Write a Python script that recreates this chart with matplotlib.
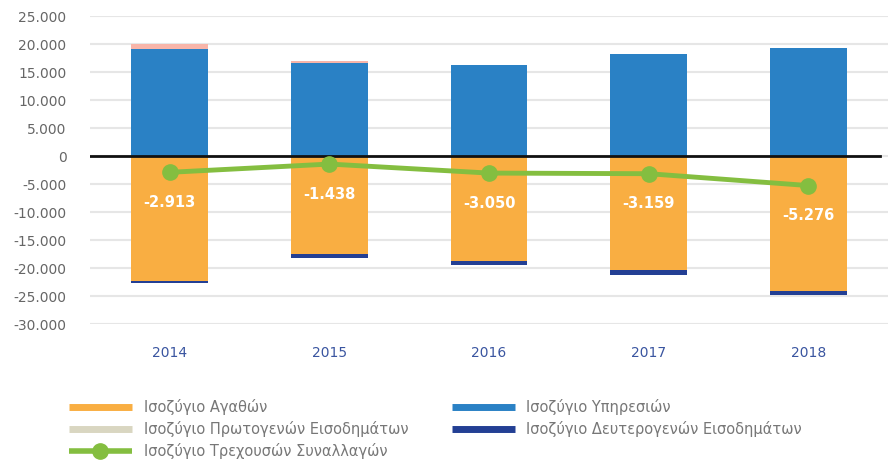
import numpy as np
import matplotlib.pyplot as plt
from matplotlib.lines import Line2D

plt.rcParams['font.family'] = ['DejaVu Sans']

years = ['2014', '2015', '2016', '2017', '2018']
goods = [-22300, -17500, -18750, -20350, -24100]
services = [19100, 16600, 16250, 18200, 19300]
primary = [900, 350, 0, 0, 0]
secondary = [-400, -700, -700, -900, -700]
current = [-2913, -1438, -3050, -3159, -5276]
current_labels = ['-2.913', '-1.438', '-3.050', '-3.159', '-5.276']

c_goods = '#F9AE42'
c_serv = '#2A81C5'
c_prim = '#F8B5A9'
c_prim_leg = '#D9D6C1'
c_sec = '#233F94'
c_cur = '#84BE40'

fig = plt.figure(figsize=(8.88, 4.63), dpi=100)
ax = fig.add_axes([90 / 888, 139 / 463, 798 / 888, 308 / 463])

x = np.arange(len(years))
w = 0.48
ax.bar(x, goods, w, color=c_goods, zorder=2)
ax.bar(x, secondary, w, bottom=goods, color=c_sec, zorder=2)
ax.bar(x, services, w, color=c_serv, zorder=2)
ax.bar(x, primary, w, bottom=services, color=c_prim, zorder=2)

ax.axhline(0, xmax=0.99, color='#111111', lw=2, zorder=3)
ax.plot(x, current, color=c_cur, lw=3.5, marker='o', ms=11, zorder=4)

for xi, yi, lab in zip(x, current, current_labels):
    ax.annotate(lab, (xi, yi), xytext=(0, -30), textcoords='offset pixels',
                ha='center', va='center', color='white', fontsize=10.5,
                fontweight='bold', zorder=5)

ax.set_ylim(-30000, 25000)
ax.set_xlim(-0.5, 4.5)
yt = np.arange(-30000, 25001, 5000)
ax.set_yticks(yt)
ax.set_yticklabels([f'{v:,}'.replace(',', '.') for v in yt])
ax.set_xticks(x)
ax.set_xticklabels(years)
ax.tick_params(axis='y', length=0, labelsize=10, labelcolor='#666666', pad=17)
ax.tick_params(axis='x', length=0, labelsize=10, labelcolor='#3A55A0', pad=16)
ax.grid(axis='y', color='#E6E6E6', lw=1.5, zorder=0)
for s in ax.spines.values():
    s.set_visible(False)

handles = [
    Line2D([], [], color=c_goods, lw=5, solid_capstyle='butt'),
    Line2D([], [], color=c_prim_leg, lw=5, solid_capstyle='butt'),
    Line2D([], [], color=c_cur, lw=4, marker='o', ms=11, solid_capstyle='butt'),
    Line2D([], [], color=c_serv, lw=5, solid_capstyle='butt'),
    Line2D([], [], color=c_sec, lw=5, solid_capstyle='butt'),
]
labels = ['Ισοζύγιο Αγαθών', 'Ισοζύγιο Πρωτογενών Εισοδημάτων',
          'Ισοζύγιο Τρεχουσών Συναλλαγών', 'Ισοζύγιο Υπηρεσιών',
          'Ισοζύγιο Δευτερογενών Εισοδημάτων']
leg = fig.legend(handles, labels, ncol=2, loc='upper left',
                 bbox_to_anchor=(56 / 888, 1 - 386 / 463), frameon=False,
                 fontsize=10.5, handlelength=4.3, handletextpad=0.8,
                 columnspacing=3.0, labelspacing=0.4)
for t in leg.get_texts():
    t.set_color('#777777')

fig.savefig('out.png', dpi=100)
